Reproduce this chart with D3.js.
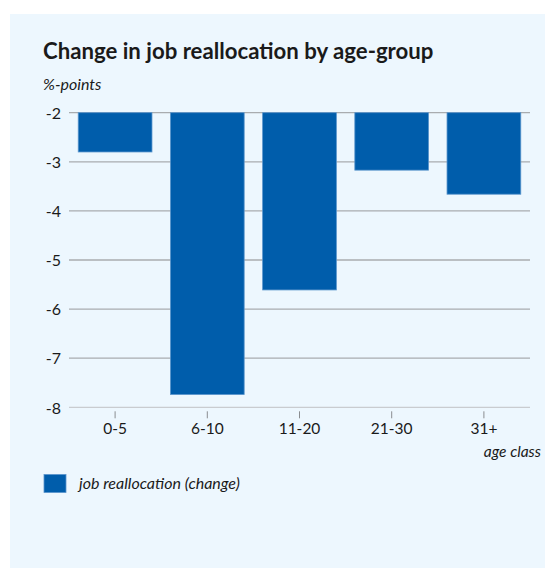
<!DOCTYPE html>
<html>
<head>
<meta charset="utf-8">
<script src="https://cdn.jsdelivr.net/npm/d3@7"></script>
<style>
  html, body { margin: 0; padding: 0; background: #ffffff; }
  svg { display: block; }
  text { font-family: Lato, "Open Sans", sans-serif; fill: #1a1a1a; }
</style>
</head>
<body>
<svg id="chart" width="545" height="568"></svg>
<script>
// Age classes and the change in job reallocation (percentage points)
const ageClasses = ["0-5", "6-10", "11-20", "21-30", "31+"];
const reallocationChange = [-2.8, -7.74, -5.61, -3.17, -3.66];
const yTicks = [-2, -3, -4, -5, -6, -7, -8];

const svg = d3.select("#chart");
const W = 545, H = 568;

// panel background
svg.append("rect")
  .attr("x", 10).attr("y", 14)
  .attr("width", W - 10).attr("height", H - 14)
  .attr("fill", "#edf7fe");

const plot = { left: 69, right: 530, top: 112.7, bottom: 407.3 };

const x = d3.scaleBand()
  .domain(ageClasses)
  .range([plot.left, plot.right])
  .paddingInner(0.2)
  .paddingOuter(0.1);

const y = d3.scaleLinear()
  .domain([-2, -8])
  .range([plot.top, plot.bottom]);

// title and unit
svg.append("text")
  .attr("x", 43).attr("y", 59)
  .attr("font-size", 22.2)
  .attr("font-weight", 700)
  .text("Change in job reallocation by age-group");

svg.append("text")
  .attr("x", 43).attr("y", 90)
  .attr("font-size", 16)
  .attr("font-style", "italic")
  .text("%-points");

// value axis, plain hyphen as the sign
const yAxis = d3.axisLeft(y)
  .tickValues(yTicks)
  .tickSize(0)
  .tickPadding(8)
  .tickFormat(d => String(d));

const gy = svg.append("g")
  .attr("transform", `translate(${plot.left},0)`)
  .call(yAxis);
gy.select(".domain").remove();
gy.selectAll(".tick text")
  .attr("font-size", 16)
  .attr("fill", "#1a1a1a")
  .attr("font-family", "Lato, 'Open Sans', sans-serif")
  .attr("dy", "0.36em");

// horizontal grid
svg.append("g")
  .selectAll("line")
  .data(yTicks.filter(d => d !== -8))
  .join("line")
  .attr("x1", plot.left).attr("x2", plot.right)
  .attr("y1", d => y(d)).attr("y2", d => y(d))
  .attr("stroke", "#a9acaf")
  .attr("stroke-width", 1.3);

// bars hang down from the -2 baseline
svg.append("g")
  .selectAll("rect")
  .data(ageClasses.map((c, i) => ({ c, v: reallocationChange[i] })))
  .join("rect")
  .attr("x", d => x(d.c))
  .attr("width", x.bandwidth())
  .attr("y", y(-2))
  .attr("height", d => y(d.v) - y(-2))
  .attr("fill", "#005dab")
  .attr("stroke", "#5a95cc")
  .attr("stroke-width", 0.8);

// category axis at -8
const xAxis = d3.axisBottom(x)
  .tickSize(7)
  .tickPadding(9)
  .tickSizeOuter(0);

const gx = svg.append("g")
  .attr("transform", `translate(0,${y(-8)})`)
  .call(xAxis);
gx.select(".domain")
  .attr("stroke", "#c9ccd0")
  .attr("stroke-width", 1.3)
  .attr("d", `M${plot.left},0H${plot.right}`);
gx.selectAll(".tick line")
  .attr("stroke", "#8a8d90")
  .attr("y1", 4).attr("y2", 11);
gx.selectAll(".tick text")
  .attr("font-size", 15.5)
  .attr("fill", "#1a1a1a")
  .attr("font-family", "Lato, 'Open Sans', sans-serif")
  .attr("y", 16)
  .attr("dy", "0.71em");

svg.append("text")
  .attr("x", 541).attr("y", 457)
  .attr("text-anchor", "end")
  .attr("font-size", 15.5)
  .attr("font-style", "italic")
  .text("age class");

// legend
svg.append("rect")
  .attr("x", 44).attr("y", 474.5)
  .attr("width", 22).attr("height", 18)
  .attr("fill", "#005dab")
  .attr("stroke", "#5a95cc")
  .attr("stroke-width", 0.8);

svg.append("text")
  .attr("x", 79).attr("y", 489)
  .attr("font-size", 16)
  .attr("font-style", "italic")
  .text("job reallocation (change)");
</script>
</body>
</html>
